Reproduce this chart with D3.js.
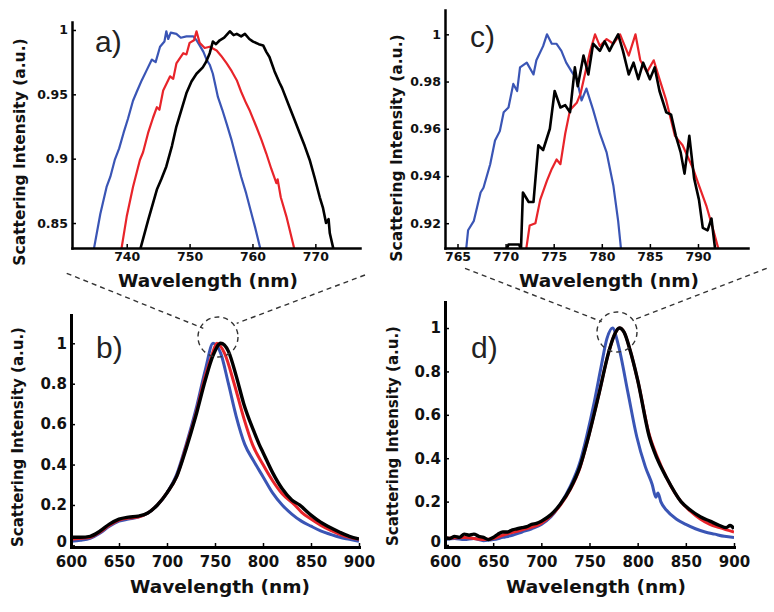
<!DOCTYPE html>
<html>
<head>
<meta charset="utf-8">
<script src="https://cdn.jsdelivr.net/npm/d3@7"></script>
<style>
  body { margin: 0; background: #fff; }
  svg { display: block; }
</style>
</head>
<body>
<svg id="drawing_region"></svg>
<script>
// ---- colours of the three spectra
const colors = ['#3a55b5', '#e8242a', '#000000'];

// ---- a) zoom on the peak of b)  [wavelength nm, intensity a.u.]
const aBlue = [[734.6,0.825],[735.8,0.857],[736.8,0.878],[737.4,0.886],[738.1,0.899],[738.8,0.908],[739.5,0.920],[740.2,0.931],[741.0,0.945],[741.6,0.952],[742.4,0.961],[743.2,0.969],[744.0,0.977],[744.6,0.975],[745.3,0.987],[746.0,0.991],[746.3,0.999],[746.6,0.993],[747.0,0.998],[747.9,0.997],[748.6,0.994],[749.5,0.995],[750.6,0.995],[751.1,0.992],[751.6,0.988],[752.2,0.983],[752.7,0.977],[753.2,0.973],[753.7,0.966],[754.1,0.957],[754.5,0.948],[755.2,0.938],[755.9,0.927],[756.7,0.914],[757.5,0.899],[758.2,0.886],[759.0,0.873],[759.7,0.860],[760.4,0.847],[761.5,0.825]];
const aRed = [[739.0,0.825],[740.0,0.855],[741.0,0.878],[742.1,0.899],[742.6,0.905],[743.4,0.920],[744.2,0.932],[744.8,0.940],[745.2,0.938],[745.8,0.953],[746.9,0.964],[747.4,0.962],[747.9,0.974],[749.0,0.982],[749.5,0.981],[750.0,0.990],[750.7,0.992],[751.1,0.999],[751.6,0.990],[752.4,0.986],[753.2,0.987],[754.3,0.984],[755.0,0.980],[755.9,0.974],[756.7,0.968],[757.5,0.961],[758.2,0.952],[759.0,0.943],[759.6,0.937],[760.6,0.925],[761.4,0.915],[762.2,0.904],[763.0,0.892],[763.8,0.881],[764.0,0.884],[764.5,0.870],[765.4,0.855],[766.9,0.825]];
const aBlack = [[741.9,0.825],[743.4,0.852],[744.8,0.876],[745.5,0.884],[746.3,0.894],[747.2,0.910],[747.9,0.925],[748.7,0.938],[749.5,0.951],[750.3,0.960],[751.1,0.966],[752.1,0.971],[752.6,0.975],[753.2,0.982],[753.7,0.991],[754.2,0.989],[754.8,0.992],[755.5,0.994],[756.4,0.999],[757.0,0.996],[757.5,0.997],[758.2,0.995],[758.8,0.997],[759.5,0.993],[760.1,0.991],[761.0,0.989],[761.7,0.988],[762.2,0.983],[762.7,0.979],[763.5,0.968],[764.3,0.959],[764.7,0.955],[765.9,0.940],[766.7,0.930],[767.5,0.920],[768.3,0.910],[769.1,0.899],[769.9,0.885],[770.7,0.870],[771.2,0.862],[771.7,0.850],[772.1,0.853],[772.3,0.842],[773.1,0.825]];

// ---- b) full spectra
const bBlue = [[600,0.02],[610,0.025],[620,0.035],[630,0.06],[640,0.095],[650,0.12],[660,0.13],[670,0.14],[680,0.16],[690,0.2],[700,0.26],[710,0.35],[720,0.5],[730,0.67],[740,0.87],[748,1.0],[756,0.95],[764,0.8],[772,0.64],[781,0.5],[790,0.42],[800,0.34],[810,0.26],[820,0.2],[830,0.155],[840,0.12],[850,0.095],[860,0.072],[870,0.055],[880,0.04],[890,0.03],[900,0.02]];
const bRed = [[600,0.03],[610,0.035],[620,0.04],[630,0.065],[640,0.1],[650,0.125],[660,0.135],[670,0.14],[680,0.16],[690,0.2],[700,0.26],[710,0.34],[720,0.49],[730,0.65],[740,0.84],[746,0.93],[752,1.0],[760,0.95],[770,0.8],[780,0.63],[789,0.5],[800,0.4],[810,0.32],[820,0.255],[833,0.2],[840,0.165],[850,0.13],[860,0.1],[870,0.075],[880,0.055],[890,0.04],[900,0.03]];
const bBlack = [[600,0.04],[610,0.04],[620,0.045],[630,0.07],[640,0.105],[650,0.13],[660,0.14],[670,0.145],[680,0.16],[690,0.2],[700,0.26],[710,0.34],[720,0.48],[730,0.64],[740,0.82],[748,0.94],[756,1.0],[764,0.96],[772,0.84],[780,0.7],[790,0.57],[796,0.5],[800,0.46],[810,0.36],[820,0.28],[830,0.225],[838,0.2],[850,0.15],[860,0.115],[870,0.088],[880,0.065],[890,0.045],[900,0.032]];

// ---- c) zoom on the peak of d)
const cBlue = [[765.8,0.905],[766.1,0.917],[766.7,0.921],[767.4,0.933],[767.7,0.935],[768.4,0.945],[768.9,0.955],[769.4,0.959],[769.8,0.967],[770.3,0.969],[770.8,0.979],[771.2,0.976],[771.5,0.986],[772.2,0.988],[772.9,0.983],[773.2,0.989],[773.9,0.995],[774.3,1.0],[774.8,0.996],[775.3,0.996],[775.8,0.993],[776.3,0.988],[776.9,0.984],[777.4,0.981],[777.9,0.972],[778.4,0.977],[779.1,0.968],[779.8,0.958],[780.5,0.950],[781.2,0.936],[781.7,0.921],[782.1,0.905]];
const cRed = [[772.0,0.905],[772.5,0.919],[773.1,0.920],[773.6,0.930],[774.3,0.938],[774.8,0.943],[775.3,0.947],[775.7,0.945],[776.2,0.958],[776.7,0.968],[777.4,0.971],[777.8,0.975],[778.3,0.984],[778.8,0.993],[779.3,1.0],[779.8,0.995],[780.5,0.998],[781.2,0.996],[781.9,1.0],[782.8,0.991],[783.5,1.0],[784.0,0.989],[784.7,0.984],[785.4,0.989],[786.0,0.981],[786.7,0.972],[787.6,0.957],[788.4,0.953],[789.5,0.943],[790.1,0.936],[790.9,0.927],[791.6,0.917],[792.4,0.905]];
const cBlack = [[769.8,0.906],[770.3,0.911],[771.4,0.911],[771.6,0.909],[771.8,0.933],[772.4,0.929],[772.9,0.929],[773.4,0.953],[773.9,0.951],[774.6,0.960],[775.1,0.976],[775.7,0.969],[776.2,0.970],[776.7,0.967],[777.2,0.986],[777.5,0.978],[778.1,0.991],[778.6,0.983],[779.1,0.996],[779.8,0.993],[780.3,0.997],[780.8,0.993],[781.3,0.997],[781.7,1.0],[782.2,0.993],[782.8,0.983],[783.3,0.988],[783.8,0.981],[784.3,0.988],[785.0,0.981],[785.5,0.986],[786.0,0.976],[786.7,0.967],[787.2,0.966],[787.7,0.957],[788.2,0.950],[788.6,0.941],[789.1,0.957],[789.6,0.939],[790.1,0.930],[790.5,0.918],[791.0,0.917],[791.4,0.922],[791.9,0.905]];

// ---- d) full spectra
const dBlue = [[600,0.025],[610,0.03],[620,0.025],[630,0.03],[640,0.02],[650,0.025],[660,0.035],[670,0.045],[680,0.06],[690,0.075],[700,0.095],[710,0.13],[720,0.19],[730,0.27],[740,0.38],[747,0.5],[755,0.66],[762,0.82],[768,0.95],[774,1.0],[780,0.92],[790,0.7],[799,0.5],[808,0.36],[815,0.28],[819,0.22],[821,0.24],[824,0.2],[830,0.16],[840,0.12],[850,0.095],[860,0.075],[870,0.06],[880,0.05],[890,0.04],[900,0.035]];
const dRed = [[600,0.03],[620,0.035],[640,0.025],[650,0.03],[660,0.045],[680,0.07],[700,0.1],[710,0.135],[720,0.185],[730,0.255],[740,0.355],[749,0.5],[760,0.7],[770,0.89],[776,0.97],[781,1.0],[786,0.98],[792,0.9],[800,0.76],[812,0.51],[820,0.41],[830,0.31],[845,0.2],[855,0.155],[865,0.12],[875,0.095],[885,0.08],[900,0.06]];
const dBlack = [[600,0.035],[605,0.03],[610,0.04],[615,0.035],[620,0.05],[625,0.045],[630,0.05],[635,0.04],[640,0.035],[645,0.025],[650,0.035],[655,0.05],[660,0.06],[665,0.06],[670,0.07],[675,0.075],[680,0.08],[685,0.085],[690,0.095],[695,0.1],[700,0.11],[710,0.14],[720,0.19],[730,0.26],[740,0.36],[749,0.5],[760,0.7],[770,0.89],[776,0.97],[781,1.0],[786,0.98],[792,0.9],[800,0.76],[812,0.5],[820,0.4],[830,0.31],[845,0.2],[855,0.16],[865,0.13],[875,0.11],[885,0.09],[892,0.08],[896,0.09],[900,0.075]];

// ---- tick labels
const aXTicks = [740, 750, 760, 770];
const aYTicks = [0.85, 0.9, 0.95, 1];
const cXTicks = [765, 770, 775, 780, 785, 790];
const cYTicks = [0.92, 0.94, 0.96, 0.98, 1];
const fullXTicks = [600, 650, 700, 750, 800, 850, 900];
const fullYTicks = [0, 0.2, 0.4, 0.6, 0.8, 1];

class SpectrumPanel {

  constructor( config, series ) {
    this.config = config;
    this.series = series;
    this.init();
  }

  init() {
    let self = this;
    let c = self.config;

    self.xscale = d3.scaleLinear().domain(c.xDomain).range([c.left, c.right]);
    self.yscale = d3.scaleLinear().domain(c.yDomain).range([c.bottom, c.top]);

    self.g = d3.select('#drawing_region').append('g');

    self.g.append('clipPath')
      .attr('id', 'clip_' + c.name)
      .append('rect')
      .attr('x', c.left)
      .attr('y', c.top - 5)
      .attr('width', c.right - c.left)
      .attr('height', c.bottom - c.top + 5);

    self.line = d3.line()
      .x( d => self.xscale(d[0]) )
      .y( d => self.yscale(d[1]) )
      .curve(c.smooth ? d3.curveMonotoneX : d3.curveLinear);
  }

  render() {
    let self = this;
    let c = self.config;

    self.g.append('g')
      .attr('clip-path', `url(#clip_${c.name})`)
      .selectAll('path')
      .data(self.series)
      .join('path')
      .attr('d', d => self.line(d))
      .attr('fill', 'none')
      .attr('stroke', (d, i) => colors[i])
      .attr('stroke-width', (d, i) => i == 2 ? c.lineWidth + 0.4 : c.lineWidth)
      .attr('stroke-linejoin', 'round');

    const xaxis = d3.axisBottom(self.xscale)
      .tickValues(c.xTicks)
      .tickFormat(d => String(d))
      .tickSizeInner(-4).tickSizeOuter(0).tickPadding(c.tickPad);
    const yaxis = d3.axisLeft(self.yscale)
      .tickValues(c.yTicks)
      .tickFormat(d => String(d))
      .tickSizeInner(-4).tickSizeOuter(0).tickPadding(4);

    [[xaxis, `translate(0,${c.bottom})`], [yaxis, `translate(${c.left},0)`]].forEach( ([ax, tr]) => {
      const g = self.g.append('g').attr('transform', tr).call(ax);
      g.attr('font-family', '"DejaVu Sans", sans-serif')
        .attr('font-size', c.tickFont)
        .attr('font-weight', 'bold');
      g.select('.domain').attr('stroke-width', c.axisWidth).attr('stroke-linecap', 'square');
      g.selectAll('.tick line').attr('stroke-width', 1.5);
      g.selectAll('.tick text').attr('fill', '#111');
    });

    // the "0" label sits just above the wavelength labels
    if (c.smooth) {
      self.g.selectAll('.tick text')
        .filter(d => d === 0)
        .attr('dy', '0.1em');
    }

    self.g.append('text')
      .attr('x', c.xLabel[0])
      .attr('y', c.xLabel[1])
      .attr('text-anchor', 'middle')
      .attr('font-family', '"DejaVu Sans", sans-serif')
      .attr('font-weight', 'bold')
      .attr('font-size', 18.5)
      .attr('fill', '#111')
      .text('Wavelength (nm)');

    self.g.append('text')
      .attr('transform', `translate(${c.yLabel[0]},${c.yLabel[1]}) rotate(-90)`)
      .attr('dy', '0.35em')
      .attr('text-anchor', 'middle')
      .attr('font-family', '"DejaVu Sans", sans-serif')
      .attr('font-weight', 'bold')
      .attr('font-size', c.yLabelFont)
      .attr('fill', '#111')
      .text('Scattering Intensity (a.u.)');

    self.g.append('text')
      .attr('x', c.tag[0])
      .attr('y', c.tag[1])
      .attr('font-family', '"Liberation Sans", Arial, sans-serif')
      .attr('font-size', 30)
      .attr('fill', '#222')
      .text(c.name + ')');
  }
}

const svg = d3.select('#drawing_region').attr('width', 774).attr('height', 612);

const panels = [
  { name: 'a', series: [aBlue, aRed, aBlack], xDomain: [731.3, 777.1], yDomain: [0.8306, 1.0062],
    left: 72, right: 360, top: 22, bottom: 248, xTicks: aXTicks, yTicks: aYTicks, smooth: false,
    lineWidth: 2.2, axisWidth: 2.5, tickFont: 12.5, tickPad: 4, yLabelFont: 15.5,
    xLabel: [208, 287], yLabel: [20, 152], tag: [95, 52] },
  { name: 'b', series: [bBlue, bRed, bBlack], xDomain: [600, 900], yDomain: [-0.008, 1.14],
    left: 71, right: 359, top: 315, bottom: 547, xTicks: fullXTicks, yTicks: fullYTicks, smooth: true,
    lineWidth: 3, axisWidth: 3, tickFont: 15, tickPad: 9, yLabelFont: 15,
    xLabel: [220, 593], yLabel: [18, 437], tag: [96, 358] },
  { name: 'c', series: [cBlue, cRed, cBlack], xDomain: [763.7, 795.2], yDomain: [0.9095, 1.0103],
    left: 445, right: 748, top: 10, bottom: 248, xTicks: cXTicks, yTicks: cYTicks, smooth: false,
    lineWidth: 2.2, axisWidth: 2.5, tickFont: 12.5, tickPad: 4, yLabelFont: 15.5,
    xLabel: [609, 287], yLabel: [397, 148], tag: [470, 47] },
  { name: 'd', series: [dBlue, dRed, dBlack], xDomain: [600, 900], yDomain: [-0.0092, 1.12],
    left: 445, right: 734, top: 302, bottom: 547, xTicks: fullXTicks, yTicks: fullYTicks, smooth: true,
    lineWidth: 3, axisWidth: 3, tickFont: 15, tickPad: 9, yLabelFont: 15,
    xLabel: [596, 593], yLabel: [393, 436], tag: [471, 358] },
];

panels.forEach( p => {
  const panel = new SpectrumPanel(p, p.series);
  panel.render();
});

// dashed zoom markers linking the insets to the full spectra
const zoomMarks = [
  { circle: [218, 337, 20], lines: [[66.7, 273.3, 203.3, 328.3], [365, 275, 236.7, 323.3]] },
  { circle: [617, 332, 20], lines: [[465, 268.3, 601.7, 321.7], [766.7, 268.3, 633.3, 320]] },
];
const marks = svg.append('g')
  .attr('fill', 'none')
  .attr('stroke', '#333')
  .attr('stroke-width', 1.4)
  .attr('stroke-dasharray', '5,4');
zoomMarks.forEach( m => {
  marks.append('circle').attr('cx', m.circle[0]).attr('cy', m.circle[1]).attr('r', m.circle[2]);
  m.lines.forEach( l => {
    marks.append('line').attr('x1', l[0]).attr('y1', l[1]).attr('x2', l[2]).attr('y2', l[3]);
  });
});
</script>
</body>
</html>
